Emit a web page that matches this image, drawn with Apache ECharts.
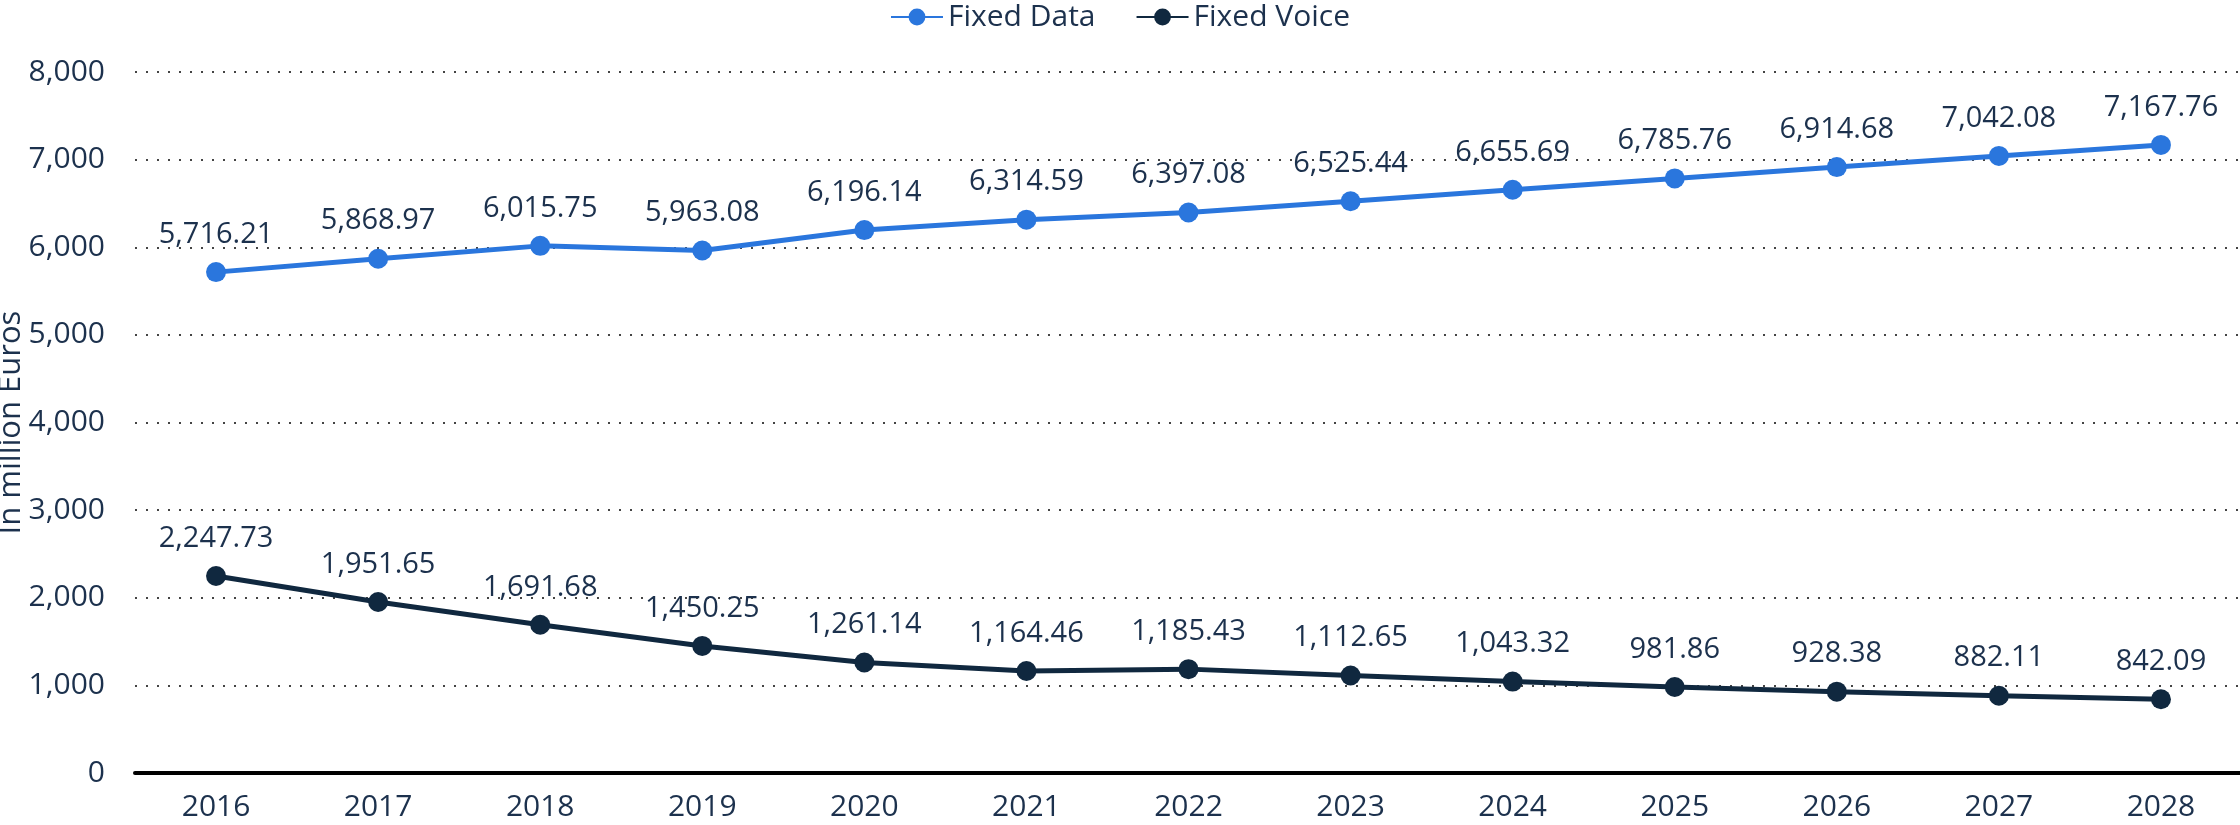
<!DOCTYPE html>
<html>
<head>
<meta charset="utf-8">
<script src="https://cdn.jsdelivr.net/npm/echarts@6/dist/echarts.min.js"></script>
<style>
  html, body { margin: 0; padding: 0; background: #fff; }
  #chart { width: 2240px; height: 825px; }
</style>
</head>
<body>
<div id="chart"></div>
<script>
var years = ["2016", "2017", "2018", "2019", "2020", "2021", "2022", "2023", "2024", "2025", "2026", "2027", "2028"];
var fixedData = [5716.21, 5868.97, 6015.75, 5963.08, 6196.14, 6314.59, 6397.08, 6525.44, 6655.69, 6785.76, 6914.68, 7042.08, 7167.76];
var fixedVoice = [2247.73, 1951.65, 1691.68, 1450.25, 1261.14, 1164.46, 1185.43, 1112.65, 1043.32, 981.86, 928.38, 882.11, 842.09];
var seriesNames = ["Fixed Data", "Fixed Voice"];

var textColor = "#1c314d";
var font = "Open Sans";

function fmt(v) {
  return v.toLocaleString("en-US", { minimumFractionDigits: 2, maximumFractionDigits: 2 });
}

var myChart = echarts.init(document.getElementById("chart"));
var option = {
  backgroundColor: "#fff",
  textStyle: { fontFamily: font },
  legend: {
    top: -3,
    left: "center",
    itemWidth: 52,
    itemHeight: 21,
    itemGap: 40,
    textStyle: { color: textColor, fontSize: 30, fontFamily: font },
    data: seriesNames
  },
  grid: {
    left: 135,
    right: -2,
    top: 72,
    bottom: 52,
    containLabel: false,
    outerBoundsMode: "none"
  },
  xAxis: {
    type: "category",
    data: years,
    boundaryGap: true,
    axisLine: { lineStyle: { color: "#000", width: 4 } },
    axisTick: { show: false },
    axisLabel: { color: textColor, fontSize: 30, margin: 19, fontFamily: font }
  },
  yAxis: {
    type: "value",
    min: 0,
    max: 8000,
    interval: 1000,
    name: "In million Euros",
    nameLocation: "middle",
    nameGap: 108,
    nameMoveOverlap: false,
    nameTextStyle: { color: textColor, fontSize: 31, fontFamily: font },
    axisLine: { show: false },
    axisTick: { show: false },
    axisLabel: {
      color: textColor,
      fontSize: 30,
      margin: 30,
      fontFamily: font,
      formatter: function (v) { return v.toLocaleString("en-US"); }
    },
    splitLine: {
      lineStyle: { type: [2, 9], color: "#444", width: 2 }
    }
  },
  series: [
    {
      name: seriesNames[0],
      type: "line",
      data: fixedData,
      symbol: "circle",
      symbolSize: 20,
      lineStyle: { color: "#2a76dd", width: 5 },
      itemStyle: { color: "#2a76dd" },
      label: {
        show: true,
        position: "top",
        distance: 13,
        color: textColor,
        fontSize: 29,
        fontFamily: font,
        formatter: function (p) { return fmt(p.value); }
      }
    },
    {
      name: seriesNames[1],
      type: "line",
      data: fixedVoice,
      symbol: "circle",
      symbolSize: 20,
      lineStyle: { color: "#10283f", width: 5 },
      itemStyle: { color: "#10283f" },
      label: {
        show: true,
        position: "top",
        distance: 13,
        color: textColor,
        fontSize: 29,
        fontFamily: font,
        formatter: function (p) { return fmt(p.value); }
      }
    }
  ]
};
myChart.setOption(option);
window.onresize = function () {
  myChart.resize();
};
</script>
</body>
</html>
